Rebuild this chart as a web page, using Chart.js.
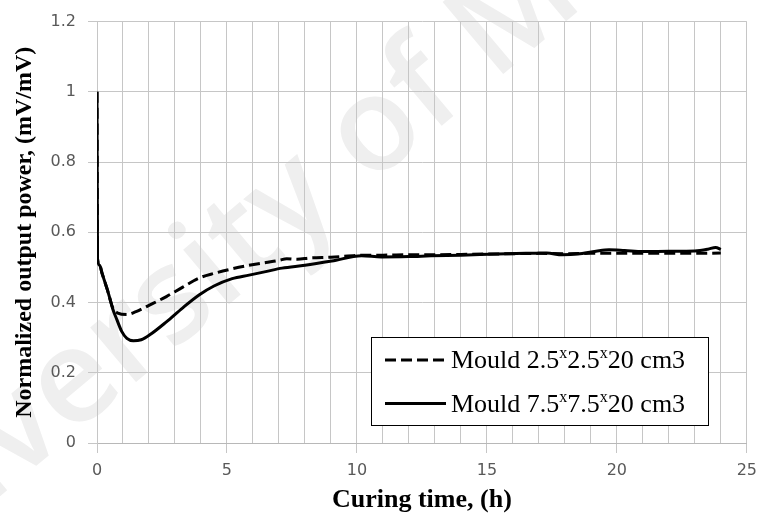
<!DOCTYPE html>
<html>
<head>
<meta charset="utf-8">
<script src="https://cdn.jsdelivr.net/npm/chart.js@4.4.1/dist/chart.umd.min.js"></script>
<style>
  html, body { margin: 0; padding: 0; background: #ffffff; }
  #wrap { width: 765px; height: 513px; position: relative; }
</style>
</head>
<body>
<div id="wrap"><canvas id="c" width="765" height="513"></canvas></div>
<script>
// ---- data ----
const seriesLabels = ['Mould 2.5x2.5x20 cm3', 'Mould 7.5x7.5x20 cm3'];

const smallTime  = [0, 0.02, 0.1, 0.2, 0.3, 0.4, 0.5, 0.6, 0.8, 1.15, 1.5, 2.0, 2.67, 3.3, 3.94, 4.5, 5.2, 5.85, 6.5, 7.0, 7.3, 7.7, 8.2, 9.0, 10.3, 11, 12, 13, 14, 15, 16, 17, 18, 19, 20, 21, 22, 23, 24];
const smallPower = [1.0, 0.524, 0.506, 0.482, 0.459, 0.436, 0.41, 0.386, 0.37, 0.366, 0.374, 0.392, 0.417, 0.444, 0.47, 0.483, 0.496, 0.506, 0.514, 0.52, 0.525, 0.523, 0.527, 0.529, 0.535, 0.535, 0.536, 0.536, 0.537, 0.538, 0.539, 0.54, 0.539, 0.54, 0.54, 0.54, 0.54, 0.54, 0.541];

const largeTime  = [0, 0.02, 0.1, 0.2, 0.3, 0.4, 0.5, 0.6, 0.76, 0.95, 1.15, 1.4, 1.7, 2.03, 2.67, 3.3, 3.94, 4.5, 5.2, 5.85, 6.49, 7.12, 8.0, 9.03, 10.18, 10.94, 12, 12.85, 14, 15.4, 16.5, 17.3, 17.9, 18.5, 19.2, 19.7, 20.3, 21, 22, 23, 23.5, 23.8, 24];
const largePower = [1.0, 0.524, 0.506, 0.482, 0.459, 0.436, 0.41, 0.383, 0.352, 0.318, 0.298, 0.291, 0.294, 0.308, 0.345, 0.385, 0.422, 0.447, 0.468, 0.478, 0.488, 0.498, 0.506, 0.518, 0.533, 0.53, 0.531, 0.533, 0.535, 0.538, 0.54, 0.541, 0.536, 0.538, 0.546, 0.55, 0.548, 0.545, 0.546, 0.547, 0.552, 0.557, 0.551];

const xTickLabels = [0, 5, 10, 15, 20, 25];
const yTickLabels = [0, 0.2, 0.4, 0.6, 0.8, 1, 1.2];
const xTitle = 'Curing time, (h)';
const yTitle = 'Normalized output power, (mV/mV)';
const watermarkText = 'University of Malaya';

function toPoints(xs, ys) { return xs.map((x, i) => ({ x: x, y: ys[i] })); }

const gridColor = '#c6c6c6';
const tickColor = '#595959';

const watermarkPlugin = {
  id: 'watermark',
  beforeDraw(chart) {
    const ctx = chart.ctx;
    ctx.save();
    ctx.font = '600 132px "Open Sans"';
    ctx.fillStyle = '#efefef';
    ctx.textBaseline = 'alphabetic';
    const pre = ctx.measureText('Uni').width;
    const d = ctx.measureText('versity ').width + ctx.measureText('o').width / 2;
    const xh = ctx.measureText('x').actualBoundingBoxAscent || 70;
    const th = 40 * Math.PI / 180;
    const cx = 377, cy = 133; // where the "o" of "of" sits
    const tx = cx - d * Math.cos(th) + (xh / 2) * Math.sin(th);
    const ty = cy + d * Math.sin(th) + (xh / 2) * Math.cos(th);
    ctx.translate(tx, ty);
    ctx.rotate(-th);
    ctx.fillText(watermarkText, -pre, 0);
    ctx.restore();
  }
};

const legendPlugin = {
  id: 'boxLegend',
  afterDraw(chart) {
    const ctx = chart.ctx;
    const bx = 371.5, by = 337.5, bw = 337, bh = 88;
    ctx.save();
    ctx.fillStyle = '#ffffff';
    ctx.fillRect(bx, by, bw, bh);
    ctx.strokeStyle = '#000000';
    ctx.lineWidth = 1;
    ctx.strokeRect(bx, by, bw, bh);
    const rows = [{ lineY: 360, baseY: 368 }, { lineY: 403.5, baseY: 411.5 }];
    chart.data.datasets.forEach((ds, i) => {
      const r = rows[i];
      ctx.strokeStyle = ds.borderColor;
      ctx.lineWidth = ds.borderWidth;
      ctx.setLineDash(ds.borderDash || []);
      ctx.beginPath();
      ctx.moveTo(385, r.lineY);
      ctx.lineTo(446, r.lineY);
      ctx.stroke();
      ctx.setLineDash([]);
      // label with superscript x
      const parts = ds.label.split('x');
      let x = 451;
      ctx.fillStyle = '#000000';
      ctx.textBaseline = 'alphabetic';
      parts.forEach((p, k) => {
        ctx.font = '26px "Liberation Serif"';
        ctx.fillText(p, x, r.baseY);
        x += ctx.measureText(p).width;
        if (k < parts.length - 1) {
          ctx.font = '16px "Liberation Serif"';
          ctx.fillText('x', x, r.baseY - 10);
          x += ctx.measureText('x').width;
        }
      });
    });
    ctx.restore();
  }
};

new Chart(document.getElementById('c'), {
  type: 'line',
  data: {
    datasets: [
      {
        label: seriesLabels[0],
        data: toPoints(smallTime, smallPower),
        borderColor: '#000000',
        borderWidth: 3,
        borderDash: [11, 5],
        pointRadius: 0,
        fill: false,
        cubicInterpolationMode: 'monotone'
      },
      {
        label: seriesLabels[1],
        data: toPoints(largeTime, largePower),
        borderColor: '#000000',
        borderWidth: 3,
        pointRadius: 0,
        fill: false,
        cubicInterpolationMode: 'monotone'
      }
    ]
  },
  options: {
    responsive: false,
    animation: false,
    devicePixelRatio: 1,
    layout: { padding: { left: 0, right: 13, top: 19, bottom: 0 } },
    plugins: {
      legend: { display: false },
      tooltip: { enabled: false }
    },
    scales: {
      x: {
        type: 'linear',
        min: 0,
        max: 25,
        afterFit(scale) { scale.height = 70; },
        ticks: {
          stepSize: 1,
          autoSkip: false,
          maxRotation: 0,
          padding: 8,
          color: tickColor,
          font: { family: '"DejaVu Sans"', size: 16 },
          callback: (v) => xTickLabels.includes(v) ? String(v) : ''
        },
        grid: {
          color: gridColor,
          lineWidth: 1,
          tickLength: 10,
          tickColor: (ctx) => (ctx.tick && xTickLabels.includes(ctx.tick.value)) ? gridColor : 'rgba(0,0,0,0)'
        },
        border: { color: '#b8b8b8' },
        title: {
          display: true,
          text: xTitle,
          color: '#000000',
          font: { family: '"Liberation Serif"', size: 26, weight: 'bold' },
          padding: { top: 0, bottom: -3 }
        }
      },
      y: {
        min: 0,
        max: 1.2,
        afterFit(scale) { scale.width = 97; },
        ticks: {
          stepSize: 0.2,
          padding: 12,
          color: tickColor,
          font: { family: '"DejaVu Sans"', size: 16 },
          callback: (v) => {
            const m = yTickLabels.find(t => Math.abs(t - v) < 1e-6);
            return m === undefined ? '' : String(m);
          }
        },
        grid: { color: gridColor, lineWidth: 1, tickLength: 9 },
        border: { color: gridColor },
        title: {
          display: true,
          text: yTitle,
          color: '#000000',
          font: { family: '"Liberation Serif"', size: 24, weight: 'bold' },
          padding: { top: 10, bottom: 0 }
        }
      }
    }
  },
  plugins: [watermarkPlugin, legendPlugin]
});
</script>
</body>
</html>
